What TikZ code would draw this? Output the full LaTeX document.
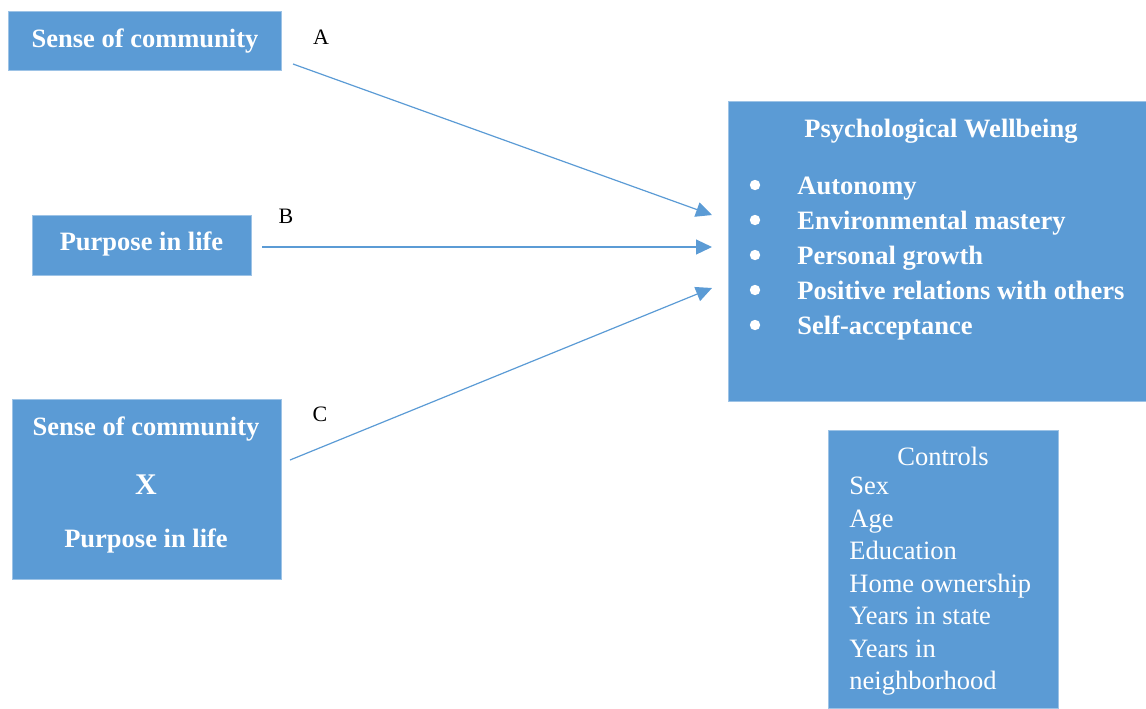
\documentclass[tikz,border=0pt]{standalone}
\usepackage{fontspec}
\setmainfont{Liberation Serif}
\usetikzlibrary{arrows.meta,fit}
\definecolor{accblue}{HTML}{5B9BD5}
\definecolor{accedge}{HTML}{9DC3E6}
\tikzset{
  varbox/.style={fill=accblue, draw=accedge, line width=0.5pt, inner sep=0pt},
  wtext/.style={text=white, inner sep=0pt, font=\fontsize{13.25}{16}\selectfont\bfseries},
  ctext/.style={text=white, inner sep=0pt, font=\fontsize{13.25}{16}\selectfont},
  effect/.style={draw=accblue, line width=0.6pt, -{Triangle[length=8pt,width=7.5pt]}},
  pathlbl/.style={inner sep=0pt, font=\fontsize{11}{13}\selectfont}
}
\begin{document}
\begin{tikzpicture}[x=0.5pt,y=-0.5pt]
\useasboundingbox (0,0) rectangle (1146,708);
% predictors:
\node[varbox, fit={(8,11) (281,70)}] (soc) {};
\node[wtext, anchor=base] (soctext) at (145,47) {Sense of community};
\node[varbox, fit={(32,215) (251,275)}] (pil) {};
\node[wtext, anchor=base] (piltext) at (141.5,250.5) {Purpose in life};
\node[varbox, fit={(12,399) (281,579)}] (socxpil) {};
\node[wtext, anchor=base] (socxpil1) at (146,435) {Sense of community};
\node[wtext, anchor=base, font=\fontsize{15}{18}\selectfont\bfseries] (socxpil2) at (146,494) {X};
\node[wtext, anchor=base] (socxpil3) at (146,547.5) {Purpose in life};
% outcome:
\node[varbox, fit={(728,101) (1146,401)}] (pwb) {};
\node[wtext, anchor=base] (pwbtitle) at (941,137.5) {Psychological Wellbeing};
\foreach \lbl [count=\i] in {Autonomy, Environmental mastery, Personal growth, Positive relations with others, Self-acceptance} {
  \node[wtext, anchor=base west] (pwb\i) at (797,159+35*\i) {\lbl};
  \fill[white] (755,150+35*\i) circle[radius=2.6pt];
}
% controls:
\node[varbox, fit={(828,430) (1058,708)}] (ctrl) {};
\node[ctext, anchor=base] (ctrltitle) at (943,465) {Controls};
\foreach \lbl [count=\i] in {Sex, Age, Education, Home ownership, Years in state, Years in, neighborhood}
  \node[ctext, anchor=base west] (ctrl\i) at (849,462+32.5*\i) {\lbl};
% paths A, B, C:
\coordinate (fromA) at (293,64);
\coordinate (fromB) at (262,247);
\coordinate (fromC) at (290,460);
\coordinate (toA) at (712,215);
\coordinate (toB) at (712,247);
\coordinate (toC) at (712,288);
\draw[effect] (fromA) -- (toA);
\draw[effect] (fromB) -- (toB);
\draw[effect] (fromC) -- (toC);
\node[pathlbl] (labA) at (321,37) {A};
\node[pathlbl] (labB) at (286,216) {B};
\node[pathlbl] (labC) at (320,414) {C};
\end{tikzpicture}
\end{document}
